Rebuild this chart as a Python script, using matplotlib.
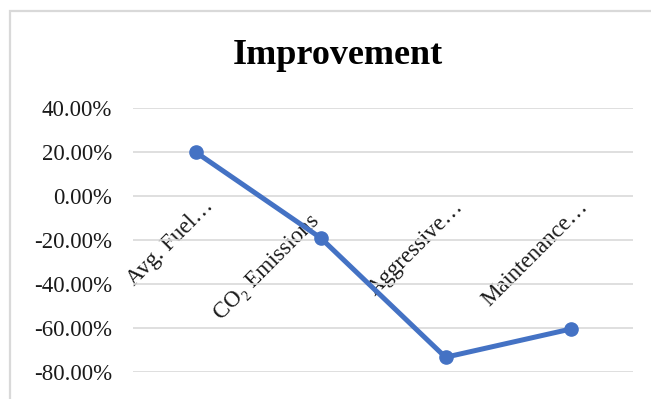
import matplotlib.pyplot as plt
from matplotlib.patches import Rectangle
from matplotlib.transforms import ScaledTranslation

categories = ['Avg. Fuel…', 'CO₂ Emissions', 'Aggressive…', 'Maintenance…']
improvement = [20.0, -19.0, -73.3, -60.5]
y_ticks = [-80, -60, -40, -20, 0, 20, 40]

SERIF = ['Liberation Serif', 'DejaVu Serif']
plt.rcParams['font.family'] = SERIF

fig = plt.figure(figsize=(6.51, 3.99), dpi=100)
ax = fig.add_axes([133 / 651, 1 - 372 / 399, 500 / 651, 264 / 399])

# light chart-area border, cropped on the right and bottom like the screenshot
fig.patches.append(Rectangle((10 / 651, -0.2), 1.2, 1 - 11 / 399 + 0.2,
                             transform=fig.transFigure, fill=False,
                             edgecolor='#d9d9d9', linewidth=1.6, clip_on=False))

x = list(range(len(categories)))
ax.plot(x, improvement, color='#4472C4', linewidth=3.6, marker='o',
        markersize=9.5, solid_capstyle='round', zorder=3)

ax.set_xlim(-0.5, len(categories) - 0.5)
ax.set_ylim(-80, 40)
ax.set_yticks(y_ticks)
ax.set_yticklabels([f'{v:.2f}%' for v in y_ticks])
ax.grid(axis='y', color='#d9d9d9', linewidth=1.2)
ax.set_axisbelow(True)
for s in ax.spines.values():
    s.set_visible(False)

# category axis crosses at zero, labels hang from there
ax.spines['bottom'].set_position(('data', 0))
ax.set_xticks(x)
ax.set_xticklabels(categories, rotation=45, ha='right', va='top',
                   rotation_mode='anchor')
ax.tick_params(axis='x', length=0, pad=0, labelsize=16.5, labelcolor='#1a1a1a')
ax.tick_params(axis='y', length=0, pad=15, labelsize=16.5, labelcolor='#1a1a1a')

nudges = [(7, 0), (-12, -15), (7, 0), (7, 0)]
for lab, (dx, dy) in zip(ax.get_xticklabels(), nudges):
    lab.set_transform(lab.get_transform() + ScaledTranslation(dx / 100, dy / 100, fig.dpi_scale_trans))

fig.text(338 / 651, 1 - 55 / 399, 'Improvement', ha='center', va='center',
         fontsize=26, fontweight='bold', color='black')

fig.savefig('out.png', dpi=100)
